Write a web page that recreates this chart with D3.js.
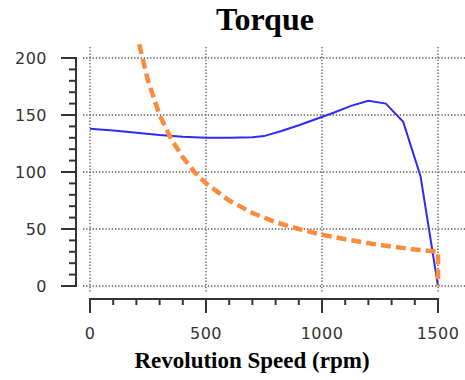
<!DOCTYPE html>
<html>
<head>
<meta charset="utf-8">
<script src="https://cdn.jsdelivr.net/npm/d3@7"></script>
<style>
body { margin: 0; background: #fff; }
.ticklab { font-family: "DejaVu Sans", Verdana, sans-serif; font-size: 16px; fill: #333; letter-spacing: 0.5px; }
.ttl { font-family: "Liberation Serif", "Times New Roman", serif; font-weight: bold; fill: #000; }
</style>
</head>
<body>
<script>
// torque curve (rpm, N·m)
var speedRpm  = [0, 100, 200, 300, 400, 500, 600, 700, 750, 825, 900, 975, 1050, 1125, 1200, 1275, 1350, 1425, 1500];
var torqueVal = [138, 136.5, 134.5, 132.5, 131, 130, 130, 130.5, 131.5, 136, 141, 146.5, 152, 158, 162.5, 160, 144, 96, 0];

// load curve (dashed)
var loadRpm = [212, 250, 300, 350, 400, 450, 500, 600, 700, 800, 900, 1000, 1100, 1200, 1300, 1400, 1500, 1500];
var loadVal = [212, 180, 150, 129, 113, 100, 90, 75, 64, 56, 50, 45, 41, 37.5, 34.6, 32, 30, 0];

var xTicks = [0, 500, 1000, 1500];
var yTicks = [0, 50, 100, 150, 200];

var W = 465, H = 380;
var svg = d3.select("body").append("svg").attr("width", W).attr("height", H);

var x = d3.scaleLinear().domain([0, 1500]).range([90, 438]);
var y = d3.scaleLinear().domain([0, 200]).range([286, 58]);

// grid
var grid = svg.append("g").attr("stroke", "#555").attr("stroke-width", 1.3).attr("stroke-dasharray", "1.3,1.9");
grid.selectAll(".gx").data(xTicks).enter().append("line")
    .attr("x1", d => x(d)).attr("x2", d => x(d))
    .attr("y1", 47).attr("y2", 292);
grid.selectAll(".gy").data(yTicks).enter().append("line")
    .attr("x1", 83).attr("x2", 465)
    .attr("y1", d => y(d)).attr("y2", d => y(d));

// y axis
var yax = svg.append("g").attr("stroke", "#333").attr("stroke-width", 2);
yax.append("line").attr("x1", 76).attr("x2", 76).attr("y1", y(200) - 1).attr("y2", y(0) + 1);
yax.selectAll(".ym").data(d3.range(0, 201, 10)).enter().append("line")
    .attr("x1", d => d % 50 == 0 ? 61 : 69).attr("x2", 76)
    .attr("y1", d => y(d)).attr("y2", d => y(d));
svg.selectAll(".ylab").data(yTicks).enter().append("text")
    .attr("class", "ticklab")
    .attr("x", 47).attr("y", d => y(d) + 6)
    .attr("text-anchor", "end")
    .text(d => d);

// x axis
var xax = svg.append("g").attr("stroke", "#333").attr("stroke-width", 2);
xax.append("line").attr("x1", x(0) - 1).attr("x2", x(1500) + 1).attr("y1", 299).attr("y2", 299);
xax.selectAll(".xm").data(d3.range(0, 1501, 100)).enter().append("line")
    .attr("x1", d => x(d)).attr("x2", d => x(d))
    .attr("y1", 299).attr("y2", d => d % 500 == 0 ? 313 : 305);
svg.selectAll(".xlab").data(xTicks).enter().append("text")
    .attr("class", "ticklab")
    .attr("x", d => x(d)).attr("y", 339)
    .attr("text-anchor", "middle")
    .text(d => d);

// curves
var torqueLine = d3.line().x((d, i) => x(speedRpm[i])).y(d => y(d));
svg.append("path")
    .attr("d", torqueLine(torqueVal))
    .attr("fill", "none").attr("stroke", "#2d2df2").attr("stroke-width", 2);

var loadLine = d3.line().x((d, i) => x(loadRpm[i])).y(d => y(d));
svg.append("path")
    .attr("d", loadLine(loadVal))
    .attr("fill", "none").attr("stroke", "#fb8c3c").attr("stroke-width", 4.5)
    .attr("stroke-dasharray", "10,5");

// titles
svg.append("text").attr("class", "ttl")
    .attr("x", 265).attr("y", 30).attr("text-anchor", "middle")
    .style("font-size", "32px").text("Torque");
svg.append("text").attr("class", "ttl")
    .attr("x", 252).attr("y", 368).attr("text-anchor", "middle")
    .style("font-size", "23px").text("Revolution Speed (rpm)");
</script>
</body>
</html>
